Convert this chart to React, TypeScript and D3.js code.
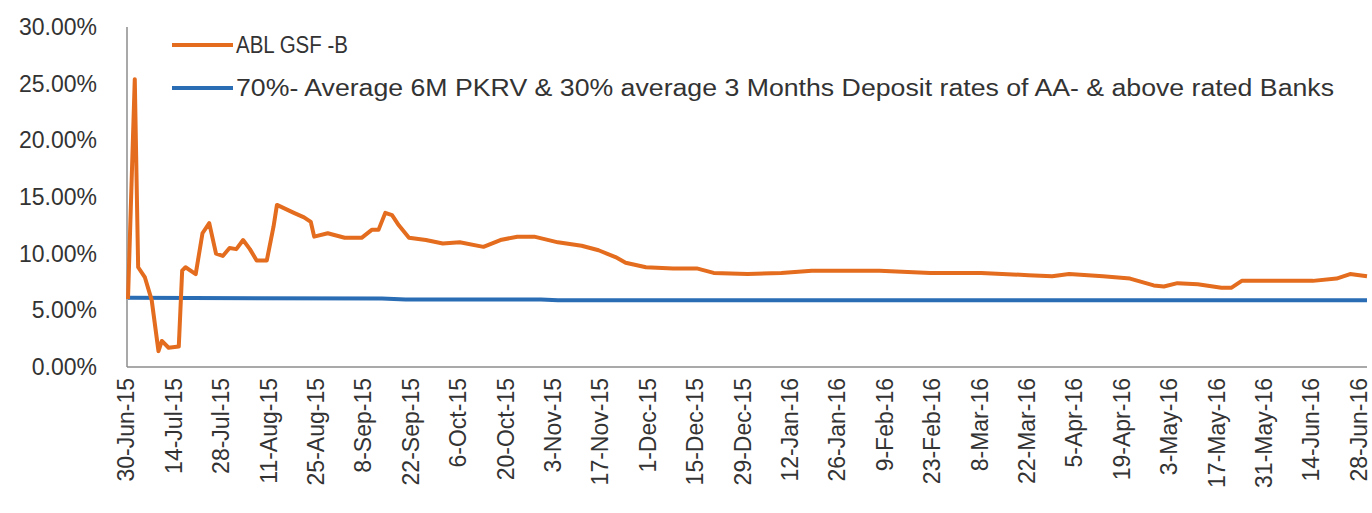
import React, { useEffect, useRef } from 'react';
import * as d3 from 'd3';

// ABL GSF -B daily yield
const fundDates = [
  '2015-06-30', '2015-07-02', '2015-07-03', '2015-07-05', '2015-07-07', '2015-07-09', '2015-07-10',
  '2015-07-12', '2015-07-15', '2015-07-16', '2015-07-17', '2015-07-20', '2015-07-22', '2015-07-24',
  '2015-07-26', '2015-07-28', '2015-07-30', '2015-08-01', '2015-08-03', '2015-08-05', '2015-08-07',
  '2015-08-10', '2015-08-12', '2015-08-13', '2015-08-18', '2015-08-21', '2015-08-23', '2015-08-24',
  '2015-08-28', '2015-09-02', '2015-09-07', '2015-09-10', '2015-09-12', '2015-09-14', '2015-09-16',
  '2015-09-18', '2015-09-21', '2015-09-26', '2015-10-01', '2015-10-06', '2015-10-13', '2015-10-18',
  '2015-10-23', '2015-10-28', '2015-11-04', '2015-11-11', '2015-11-16', '2015-11-21', '2015-11-24',
  '2015-11-30', '2015-12-08', '2015-12-15', '2015-12-20', '2015-12-30', '2016-01-09', '2016-01-18',
  '2016-02-07', '2016-02-22', '2016-03-08', '2016-03-22', '2016-03-29', '2016-04-03', '2016-04-13',
  '2016-04-21', '2016-04-28', '2016-05-01', '2016-05-05', '2016-05-11', '2016-05-18', '2016-05-21',
  '2016-05-24', '2016-06-06', '2016-06-14', '2016-06-21', '2016-06-25', '2016-06-30',
];
const fundValues = [
  6.0, 25.4, 8.8, 7.9, 5.9, 1.4, 2.3,
  1.7, 1.8, 8.5, 8.8, 8.2, 11.8, 12.7,
  10.0, 9.8, 10.5, 10.4, 11.2, 10.4, 9.4,
  9.4, 12.4, 14.3, 13.6, 13.2, 12.8, 11.5,
  11.8, 11.4, 11.4, 12.1, 12.1, 13.6, 13.4,
  12.5, 11.4, 11.2, 10.9, 11.0, 10.6, 11.2,
  11.5, 11.5, 11.0, 10.7, 10.3, 9.7, 9.2,
  8.8, 8.7, 8.7, 8.3, 8.2, 8.3, 8.5,
  8.5, 8.3, 8.3, 8.1, 8.0, 8.2, 8.0,
  7.8, 7.2, 7.1, 7.4, 7.3, 7.0, 7.0,
  7.6, 7.6, 7.6, 7.8, 8.2, 8.0,
];

// benchmark
const benchDates = ['2015-06-30', '2015-09-13', '2015-09-20', '2015-10-30', '2015-11-04', '2016-06-30'];
const benchValues = [6.1, 6.05, 5.95, 5.95, 5.9, 5.9];

const tickLabels = [
  '30-Jun-15', '14-Jul-15', '28-Jul-15', '11-Aug-15', '25-Aug-15', '8-Sep-15', '22-Sep-15',
  '6-Oct-15', '20-Oct-15', '3-Nov-15', '17-Nov-15', '1-Dec-15', '15-Dec-15', '29-Dec-15',
  '12-Jan-16', '26-Jan-16', '9-Feb-16', '23-Feb-16', '8-Mar-16', '22-Mar-16', '5-Apr-16',
  '19-Apr-16', '3-May-16', '17-May-16', '31-May-16', '14-Jun-16', '28-Jun-16',
];
const yTicks = [0, 5, 10, 15, 20, 25, 30];

const seriesNames = [
  'ABL GSF -B',
  '70%- Average 6M PKRV & 30% average 3 Months Deposit rates of AA- & above rated Banks',
];
const colors = ['#E46C1E', '#2A6DB5'];

const App = () => {
  const ref = useRef<SVGSVGElement>(null);
  const svgWidth = 1372;
  const svgHeight = 513;
  const margin = { top: 27, right: 5, bottom: 146, left: 127 };
  const width = svgWidth - margin.left - margin.right;
  const height = svgHeight - margin.top - margin.bottom;
  const font = '"Liberation Sans", Arial, sans-serif';

  useEffect(() => {
    const parse = d3.timeParse('%Y-%m-%d');
    const parseTick = d3.timeParse('%d-%b-%y');
    const svg = d3.select(ref.current);
    svg.selectAll('*').remove();

    const g = svg.append('g').attr('transform', `translate(${margin.left},${margin.top})`);

    const x = d3.scaleTime()
      .domain([parse('2015-06-30') as Date, parse('2016-06-30') as Date])
      .range([1, width]);
    const y = d3.scaleLinear().domain([0, 30]).range([height, 0]);

    // axes lines
    g.append('line').attr('x1', 0).attr('x2', 0).attr('y1', 0).attr('y2', height)
      .attr('stroke', '#8c8c8c').attr('stroke-width', 1.5);
    g.append('line').attr('x1', 0).attr('x2', width).attr('y1', height).attr('y2', height)
      .attr('stroke', '#8c8c8c').attr('stroke-width', 1.5);

    // y tick labels
    g.selectAll('text.ytick')
      .data(yTicks)
      .enter()
      .append('text')
      .attr('class', 'ytick')
      .attr('x', -30)
      .attr('y', d => y(d))
      .attr('dy', '0.35em')
      .attr('text-anchor', 'end')
      .attr('font-family', font)
      .attr('font-size', 23)
      .attr('fill', '#333')
      .text(d => d3.format('.2f')(d) + '%');

    // x tick labels (rotated)
    g.selectAll('text.xtick')
      .data(tickLabels)
      .enter()
      .append('text')
      .attr('class', 'xtick')
      .attr('transform', d => `translate(${x(parseTick(d) as Date)},${height + 11}) rotate(-90)`)
      .attr('dy', '0.28em')
      .attr('text-anchor', 'end')
      .attr('font-family', font)
      .attr('font-size', 23)
      .attr('fill', '#333')
      .text(d => d);

    const line = d3.line<[Date, number]>()
      .x(d => x(d[0]))
      .y(d => y(d[1]));

    const bench: [Date, number][] = benchDates.map((d, i) => [parse(d) as Date, benchValues[i]]);
    const fund: [Date, number][] = fundDates.map((d, i) => [parse(d) as Date, fundValues[i]]);

    g.append('path').datum(bench)
      .attr('d', line)
      .attr('fill', 'none')
      .attr('stroke', colors[1])
      .attr('stroke-width', 4);

    g.append('path').datum(fund)
      .attr('d', line)
      .attr('fill', 'none')
      .attr('stroke', colors[0])
      .attr('stroke-width', 4)
      .attr('stroke-linejoin', 'round');

    // legend
    const legend = svg.append('g').attr('transform', 'translate(172,45)');
    seriesNames.forEach((name, i) => {
      const row = legend.append('g').attr('transform', `translate(0,${i * 43})`);
      row.append('line').attr('x1', 0).attr('x2', 61).attr('y1', 0).attr('y2', 0)
        .attr('stroke', colors[i]).attr('stroke-width', 4);
      row.append('text')
        .attr('x', 64)
        .attr('y', 0)
        .attr('dy', '0.35em')
        .attr('font-family', font)
        .attr('font-size', 23)
        .attr('fill', '#333')
        .attr('textLength', i === 0 ? 112 : 1098)
        .attr('lengthAdjust', 'spacingAndGlyphs')
        .text(name);
    });
  }, []);

  return (
    <svg
      ref={ref}
      width={svgWidth}
      height={svgHeight}
      style={{ position: 'absolute', left: 0, top: 0, background: '#fff' }}
    />
  );
};

export default App;
